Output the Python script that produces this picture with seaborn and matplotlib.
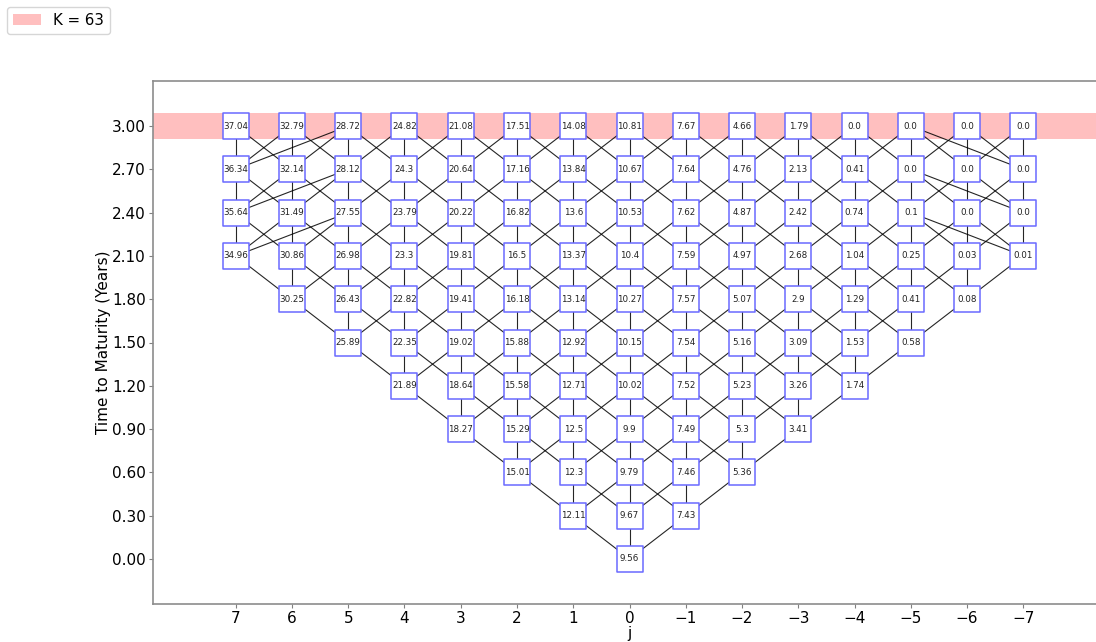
import matplotlib
matplotlib.use("Agg")
import matplotlib.pyplot as plt
import numpy as np
import pandas as pd
import seaborn as sns

# Trinomial tree: time step size, truncation level and strike
dt = 0.3
j_max = 7
strike = 63

# Node values per time step (step 0 = root), listed from j = +jmax(i) down to -jmax(i)
step_values = [
    [9.56],
    [12.11, 9.67, 7.43],
    [15.01, 12.3, 9.79, 7.46, 5.36],
    [18.27, 15.29, 12.5, 9.9, 7.49, 5.3, 3.41],
    [21.89, 18.64, 15.58, 12.71, 10.02, 7.52, 5.23, 3.26, 1.74],
    [25.89, 22.35, 19.02, 15.88, 12.92, 10.15, 7.54, 5.16, 3.09, 1.53, 0.58],
    [30.25, 26.43, 22.82, 19.41, 16.18, 13.14, 10.27, 7.57, 5.07, 2.9, 1.29, 0.41, 0.08],
    [34.96, 30.86, 26.98, 23.3, 19.81, 16.5, 13.37, 10.4, 7.59, 4.97, 2.68, 1.04, 0.25, 0.03, 0.01],
    [35.64, 31.49, 27.55, 23.79, 20.22, 16.82, 13.6, 10.53, 7.62, 4.87, 2.42, 0.74, 0.1, 0.0, 0.0],
    [36.34, 32.14, 28.12, 24.3, 20.64, 17.16, 13.84, 10.67, 7.64, 4.76, 2.13, 0.41, 0.0, 0.0, 0.0],
    [37.04, 32.79, 28.72, 24.82, 21.08, 17.51, 14.08, 10.81, 7.67, 4.66, 1.79, 0.0, 0.0, 0.0, 0.0],
]
n_steps = len(step_values) - 1
maturity = n_steps * dt

rows = []
for i, vals in enumerate(step_values):
    jm = min(i, j_max)
    for j, v in zip(range(jm, -jm - 1, -1), vals):
        rows.append({"step": i, "t": round(i * dt, 2), "j": j, "value": v})
nodes = pd.DataFrame(rows)


def children(j):
    # branching: top/bottom nodes branch inwards, others branch up/middle/down
    if j == j_max:
        return [j_max, j_max - 1, j_max - 2]
    if j == -j_max:
        return [-j_max, -j_max + 1, -j_max + 2]
    return [j + 1, j, j - 1]


fig = plt.figure(figsize=(10.96, 6.42), dpi=100)
W, H = 1096, 642
ax = fig.add_axes([153 / W, (H - 604) / H, 953 / W, 523 / H])

# strike band at maturity
band = ax.axhspan(maturity - 0.3 * dt, maturity + 0.3 * dt, color="red", alpha=0.25,
                  lw=0, label=f"K = {strike}", zorder=0)

# branches
for _, r in nodes.iterrows():
    if r["step"] >= n_steps:
        continue
    t0 = r["t"]
    t1 = round((r["step"] + 1) * dt, 2)
    for jc in children(int(r["j"])):
        ax.plot([r["j"], jc], [t0, t1], color="black", lw=0.8, alpha=0.85, zorder=1)

# nodes
sns.scatterplot(data=nodes, x="j", y="t", marker="s", s=345, color="white",
                edgecolor="#6a6aff", linewidth=1.1, zorder=3, legend=False, ax=ax)
for _, r in nodes.iterrows():
    ax.text(r["j"], r["t"], str(r["value"]), ha="center", va="center",
            fontsize=6.3, color="#222222", zorder=4)

fs = 11
ax.set_xlim(8.47, -8.47)
ax.set_ylim(-0.312, 3.312)
ax.set_xticks(list(range(j_max, -j_max - 1, -1)))
ax.set_yticks([round(i * dt, 2) for i in range(n_steps + 1)])
ax.set_yticklabels([f"{i * dt:.2f}" for i in range(n_steps + 1)])
ax.tick_params(labelsize=fs, color="0.5", length=3, pad=2)
ax.set_xlabel("j", fontsize=fs, labelpad=0)
ax.set_ylabel("Time to Maturity (Years)", fontsize=fs, labelpad=1)
for s in ax.spines.values():
    s.set_color("0.55")
    s.set_linewidth(1.2)

fig.legend(handles=[band], loc="upper left", fontsize=10.8, borderaxespad=0.45,
           handlelength=1.9)

fig.savefig("out.png", dpi=100)
